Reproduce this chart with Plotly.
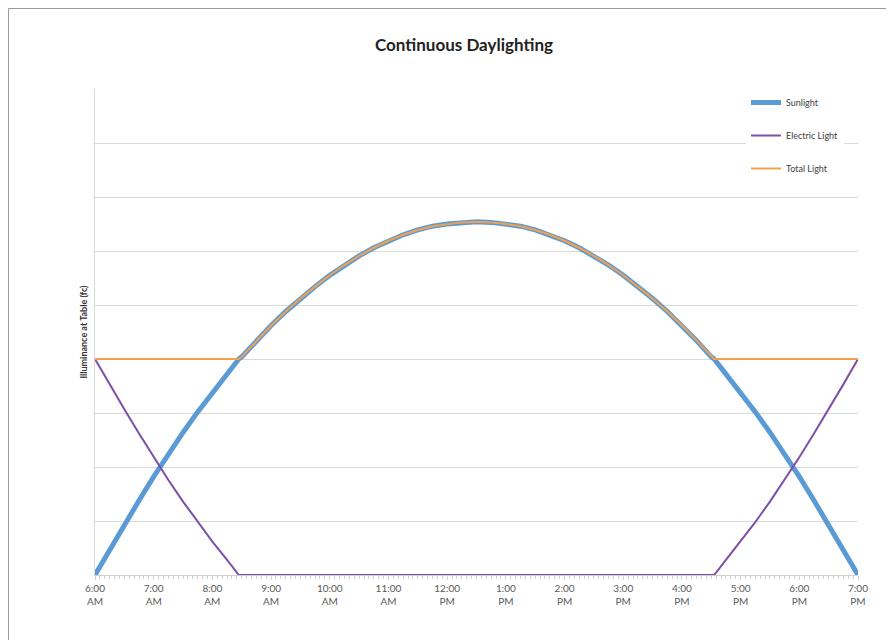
import plotly.graph_objects as go

# time of day in hours (6 = 6:00 AM, 19 = 7:00 PM), read every quarter hour
hours = [6.0, 6.25, 6.5, 6.75, 7.0, 7.25, 7.5, 7.75, 8.0, 8.25, 8.45,
         8.5, 8.75, 9.0, 9.25, 9.5, 9.75, 10.0, 10.25, 10.5, 10.75, 11.0, 11.25,
         11.5, 11.75, 12.0, 12.25, 12.5,
         12.75, 13.0, 13.25, 13.5, 13.75, 14.0, 14.25, 14.5, 14.75, 15.0, 15.25,
         15.5, 15.75, 16.0, 16.25, 16.5,
         16.55, 16.75, 17.0, 17.25, 17.5, 17.75, 18.0, 18.25, 18.5, 18.75, 19.0]
sunlight = [0.00, 0.47, 0.93, 1.38, 1.82, 2.24, 2.64, 3.02, 3.38, 3.72, 4.00,
            4.04, 4.34, 4.62, 4.88, 5.12, 5.34, 5.55, 5.74, 5.91, 6.06, 6.19, 6.30,
            6.39, 6.46, 6.50, 6.53, 6.54,
            6.53, 6.50, 6.46, 6.39, 6.30, 6.19, 6.06, 5.91, 5.74, 5.55, 5.34,
            5.12, 4.88, 4.62, 4.34, 4.04,
            4.00, 3.72, 3.38, 3.02, 2.64, 2.24, 1.82, 1.38, 0.93, 0.47, 0.00]
electric = [4.00, 3.53, 3.07, 2.62, 2.18, 1.76, 1.36, 0.98, 0.62, 0.28, 0.00,
            0.00, 0.00, 0.00, 0.00, 0.00, 0.00, 0.00, 0.00, 0.00, 0.00, 0.00, 0.00,
            0.00, 0.00, 0.00, 0.00, 0.00,
            0.00, 0.00, 0.00, 0.00, 0.00, 0.00, 0.00, 0.00, 0.00, 0.00, 0.00,
            0.00, 0.00, 0.00, 0.00, 0.00,
            0.00, 0.28, 0.62, 0.98, 1.36, 1.76, 2.18, 2.62, 3.07, 3.53, 4.00]
total = [4.00, 4.00, 4.00, 4.00, 4.00, 4.00, 4.00, 4.00, 4.00, 4.00, 4.00,
         4.04, 4.34, 4.62, 4.88, 5.12, 5.34, 5.55, 5.74, 5.91, 6.06, 6.19, 6.30,
         6.39, 6.46, 6.50, 6.53, 6.54,
         6.53, 6.50, 6.46, 6.39, 6.30, 6.19, 6.06, 5.91, 5.74, 5.55, 5.34,
         5.12, 4.88, 4.62, 4.34, 4.04,
         4.00, 4.00, 4.00, 4.00, 4.00, 4.00, 4.00, 4.00, 4.00, 4.00, 4.00]

tick_hours = list(range(6, 20))
tick_labels = ["6:00<br>AM", "7:00<br>AM", "8:00<br>AM", "9:00<br>AM", "10:00<br>AM",
               "11:00<br>AM", "12:00<br>PM", "1:00<br>PM", "2:00<br>PM", "3:00<br>PM",
               "4:00<br>PM", "5:00<br>PM", "6:00<br>PM", "7:00<br>PM"]

FONT = "Lato, 'Open Sans', sans-serif"
W, H = 894, 640
ML, MR, MT, MB = 87, 44, 81, 73
PW, PH = W - ML - MR, H - MT - MB


def px_x(p):
    # figure pixel -> paper x
    return (p - ML) / PW


def px_y(p):
    # figure pixel -> paper y
    return (H - MB - p) / PH


fig = go.Figure()
fig.add_trace(go.Scatter(x=hours, y=sunlight, name="Sunlight", mode="lines",
                         line=dict(color="#5B9BD5", width=5), legendgroup="a"))
fig.add_trace(go.Scatter(x=hours, y=electric, name="Electric Light", mode="lines",
                         line=dict(color="#7E4FA6", width=2), legendgroup="b"))
fig.add_trace(go.Scatter(x=hours, y=total, name="Total Light", mode="lines",
                         line=dict(color="#F5A04C", width=2), legendgroup="c"))

# outer frame (left and top edges visible in the reference)
fig.add_shape(type="line", xref="paper", yref="paper",
              x0=px_x(0.5), x1=px_x(0.5), y0=px_y(0.5), y1=px_y(H + 5),
              line=dict(color="#9a9a9a", width=1))
fig.add_shape(type="line", xref="paper", yref="paper",
              x0=px_x(0.5), x1=px_x(W + 5), y0=px_y(0.5), y1=px_y(0.5),
              line=dict(color="#9a9a9a", width=1))

fig.update_layout(
    width=W, height=H,
    margin=dict(l=ML, r=MR, t=MT, b=MB),
    paper_bgcolor="white", plot_bgcolor="white",
    font=dict(family=FONT, color="#404040"),
    title=dict(text="<b>Continuous Daylighting</b>", x=456 / W, xanchor="center",
               y=1 - 37 / H, yanchor="middle", font=dict(size=17, color="#222222")),
    legend=dict(x=px_x(738), y=px_y(80), xanchor="left", yanchor="top",
                bgcolor="white", font=dict(size=9, color="#404040"),
                traceorder="grouped", tracegroupgap=14, itemwidth=30),
    showlegend=True,
)
fig.update_xaxes(
    range=[6, 19], tickvals=tick_hours, ticktext=tick_labels,
    showgrid=False, zeroline=False, showline=True, linecolor="#d0d0d0",
    ticks="outside", ticklen=4, tickcolor="#d0d0d0",
    tickfont=dict(size=10, color="#595959"),
    minor=dict(dtick=1 / 12, ticks="outside", ticklen=3, tickcolor="#d0d0d0", showgrid=False),
)
fig.update_yaxes(
    range=[0, 9], dtick=1, showticklabels=False,
    showgrid=True, gridcolor="#d9d9d9", zeroline=False,
    showline=True, linecolor="#d9d9d9",
    title=dict(text="<b>Illuminance at Table (fc)</b>", font=dict(size=9, color="#333333"),
               standoff=4),
)

fig.write_html("out.html")
